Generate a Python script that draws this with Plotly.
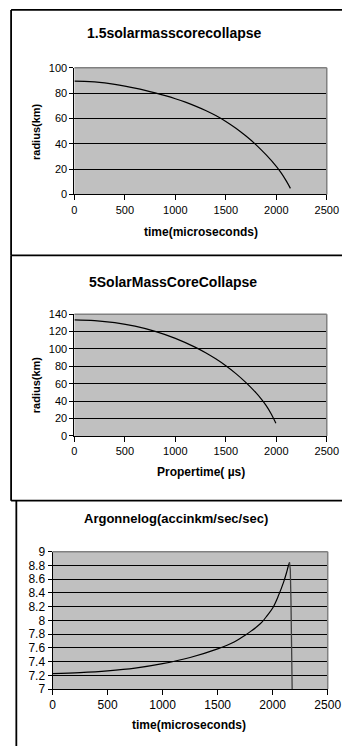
import plotly.graph_objects as go

W, H = 356, 753

# ---- data ----
t1 = [0, 100, 200, 300, 400, 500, 600, 700, 800, 900, 1000, 1100, 1200, 1300, 1400, 1500, 1600, 1700, 1800, 1900, 2000, 2050, 2100, 2140]
r1 = [89.5, 89.35, 88.9, 88.1, 87.0, 85.6, 84.0, 82.2, 80.2, 78.0, 75.6, 72.9, 69.8, 66.3, 62.3, 57.7, 52.3, 46.1, 39.2, 31.2, 22.2, 16.8, 10.5, 4.8]

t2 = [0, 200, 400, 600, 800, 1000, 1200, 1300, 1400, 1500, 1600, 1700, 1800, 1850, 1900, 1950, 1996]
r2 = [133.5, 132.6, 130.2, 126.2, 120.2, 112.2, 101.8, 95.6, 88.6, 80.6, 71.6, 61.2, 49.4, 42.6, 34.8, 25.2, 14.5]

t3 = [0, 250, 500, 750, 1000, 1250, 1500, 1650, 1750, 1800, 1850, 1900, 1950, 2000, 2050, 2100, 2125, 2140, 2153, 2160, 2166, 2171, 2177]
a3 = [7.225, 7.24, 7.265, 7.305, 7.37, 7.46, 7.585, 7.685, 7.785, 7.84, 7.90, 7.97, 8.07, 8.18, 8.35, 8.56, 8.69, 8.78, 8.845, 8.74, 8.3, 7.6, 7.0]
peak3 = 18  # index of the maximum of a3

titles = ["1.5solarmasscorecollapse", "5SolarMassCoreCollapse", "Argonnelog(accinkm/sec/sec)"]
xtitles = ["time(microseconds)", "Propertime( \u00b5s)", "time(microseconds)"]
ytitle = "radius(km)"
xticks = [0, 500, 1000, 1500, 2000, 2500]
yticks1 = [0, 20, 40, 60, 80, 100]
yticks2 = [0, 20, 40, 60, 80, 100, 120, 140]
yticks3 = [7, 7.2, 7.4, 7.6, 7.8, 8, 8.2, 8.4, 8.6, 8.8, 9]
ytext3 = ["7", "7.2", "7.4", "7.6", "7.8", "8", "8.2", "8.4", "8.6", "8.8", "9"]

FONT = "Liberation Sans, Arial, sans-serif"


def px(x):
    return x / W


def py(y):
    return 1 - y / H


# plot areas in pixels: (left, right, top, bottom)
areas = [(75, 340, 62, 191), (75, 340, 313, 437), (52, 341, 555, 695)]

fig = go.Figure()


def add_line(tx, ty, i, shape="spline", color="black", width=1.2):
    fig.add_trace(go.Scatter(x=tx, y=ty, mode="lines",
                             line=dict(color=color, width=width, shape=shape, smoothing=1.0),
                             xaxis="x" if i == 0 else f"x{i+1}",
                             yaxis="y" if i == 0 else f"y{i+1}",
                             showlegend=False, hoverinfo="skip"))


add_line(t1, r1, 0)
add_line(t2, r2, 1)
add_line(t3[:peak3 + 1], a3[:peak3 + 1], 2)
add_line(t3[peak3:], a3[peak3:], 2, shape="linear", color="#404040", width=1.3)

yr = [(0, 100), (0, 140), (7, 9)]
ytv = [yticks1, yticks2, yticks3]
ytt = [[str(v) for v in yticks1], [str(v) for v in yticks2], ytext3]
tickfs = [11, 11, 12]
layout = {}
for i, (l, r, t, b) in enumerate(areas):
    xn = "xaxis" if i == 0 else f"xaxis{i+1}"
    yn = "yaxis" if i == 0 else f"yaxis{i+1}"
    ya = "y" if i == 0 else f"y{i+1}"
    xa = "x" if i == 0 else f"x{i+1}"
    layout[xn] = dict(domain=[px(l), px(r)], range=[0, 2500], anchor=ya,
                      tickvals=xticks, ticks="outside", ticklen=5, tickcolor="black",
                      showline=True, linecolor="black", linewidth=1, showgrid=False,
                      zeroline=False, tickfont=dict(family=FONT, size=tickfs[i], color="black"),
                      fixedrange=True)
    layout[yn] = dict(domain=[py(b), py(t)], range=list(yr[i]), anchor=xa,
                      tickvals=ytv[i], ticktext=ytt[i], ticks="outside", ticklen=4,
                      tickcolor="black", showline=True, linecolor="black", linewidth=1,
                      showgrid=True, gridcolor="black", gridwidth=1, zeroline=False,
                      tickfont=dict(family=FONT, size=tickfs[i], color="black"),
                      fixedrange=True)

shapes = []
# plot area backgrounds
for (l, r, t, b) in areas:
    shapes.append(dict(type="rect", xref="paper", yref="paper", x0=px(l), x1=px(r), y0=py(b), y1=py(t),
                       fillcolor="#c0c0c0", line=dict(width=0), layer="below"))
    # gray top and right border
    shapes.append(dict(type="line", xref="paper", yref="paper", x0=px(l), x1=px(r), y0=py(t), y1=py(t),
                       line=dict(color="#808080", width=1.5)))
    shapes.append(dict(type="line", xref="paper", yref="paper", x0=px(r), x1=px(r), y0=py(t), y1=py(b),
                       line=dict(color="#808080", width=1.5)))

# chart frames
frame = [
    (8.5, 356, 3, 3), (8.5, 8.5, 3, 253), (8.5, 356, 253, 253),
    (8.5, 8.5, 253, 503), (8.5, 356, 503, 503),
    (14, 14, 503, 753),
]
for (x0, x1, y0, y1) in frame:
    shapes.append(dict(type="line", xref="paper", yref="paper", x0=px(x0), x1=px(x1), y0=py(y0), y1=py(y1),
                       line=dict(color="black", width=1.8)))

ann = []


def addtext(text, x, y, size, angle=0):
    ann.append(dict(text=f"<b>{text}</b>", x=px(x), y=py(y), xref="paper", yref="paper",
                    showarrow=False, xanchor="center", yanchor="middle", textangle=angle,
                    font=dict(family=FONT, size=size, color="black")))


addtext(titles[0], 180, 26, 14)
addtext(titles[1], 178, 280, 14)
addtext(titles[2], 182, 521, 13)
addtext(xtitles[0], 207.5, 229, 12)
addtext(xtitles[1], 207.5, 474, 12)
addtext(xtitles[2], 195, 732, 12)
addtext(ytitle, 34, 127, 11, -90)
addtext(ytitle, 34, 385, 11, -90)

fig.update_layout(width=W, height=H, margin=dict(l=0, r=0, t=0, b=0),
                  paper_bgcolor="white", plot_bgcolor="rgba(0,0,0,0)",
                  shapes=shapes, annotations=ann, **layout)

fig.write_html("out.html", config={"displayModeBar": False})
